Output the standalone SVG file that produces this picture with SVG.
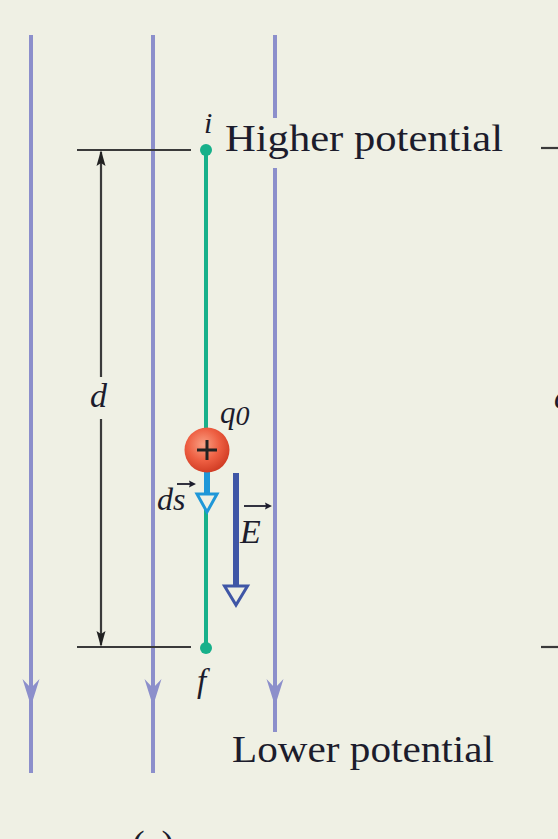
<svg xmlns="http://www.w3.org/2000/svg" width="558" height="839" viewBox="0 0 558 839">
  <defs>
    <style>
      .field { stroke: #8c8fcb; stroke-width: 4; fill: none; }
      .fieldhead { fill: #8c8fcb; }
      .dim { stroke: #3a3a3a; stroke-width: 2.2; fill: none; }
      .dimhead { fill: #222; }
      .path { stroke: #17b08a; stroke-width: 4; fill: none; }
      .dot { fill: #17b08a; }
      .serif { font-family: "Liberation Serif", "Times New Roman", serif; fill: #1c1c2c; }
      .var { font-family: "Liberation Serif", "Times New Roman", serif; font-style: italic; fill: #1c1c2c; }
      .vec { stroke: #1c1c2c; stroke-width: 1.8; fill: none; }
      .vechead { fill: #1c1c2c; }
    </style>
    <radialGradient id="chargeGrad" cx="0.42" cy="0.38" r="0.65">
      <stop offset="0" stop-color="#f9a084"/>
      <stop offset="0.55" stop-color="#ee5f42"/>
      <stop offset="1" stop-color="#cf3a22"/>
    </radialGradient>
  </defs>

  <rect x="0" y="0" width="558" height="839" fill="#eff0e4"/>

  <g id="field-lines">
    <line class="field" x1="31" y1="35" x2="31" y2="773"/>
    <path class="fieldhead" d="M22.5,679 L31,688 L39.5,679 L31,706 Z"/>
    <line class="field" x1="153" y1="35" x2="153" y2="773"/>
    <path class="fieldhead" d="M144.5,679 L153,688 L161.5,679 L153,706 Z"/>
    <line class="field" x1="275" y1="35" x2="275" y2="118"/>
    <line class="field" x1="275" y1="168" x2="275" y2="732"/>
    <path class="fieldhead" d="M266.5,679 L275,688 L283.5,679 L275,706 Z"/>
  </g>

  <g id="connectors">
    <g id="dimension-d">
      <line class="dim" x1="77" y1="150" x2="191" y2="150"/>
      <line class="dim" x1="77" y1="647" x2="191" y2="647"/>
      <line class="dim" x1="101" y1="152" x2="101" y2="377"/>
      <line class="dim" x1="101" y1="419" x2="101" y2="645"/>
      <path class="dimhead" d="M101,150 L105.5,166 L101,163 L96.5,166 Z"/>
      <path class="dimhead" d="M101,647 L105.5,631 L101,634 L96.5,631 Z"/>
    </g>
    <g id="path-i-f">
      <line class="path" x1="206" y1="150" x2="206" y2="648"/>
      <circle class="dot" cx="206" cy="150" r="6"/>
      <circle class="dot" cx="206" cy="648" r="6"/>
    </g>
    <g id="ds-arrow">
      <line x1="207" y1="470" x2="207" y2="494" stroke="#1f97d8" stroke-width="6"/>
      <path d="M197,494 L217,494 L207,512 Z" fill="#eff0e4" stroke="#1f97d8" stroke-width="3"/>
    </g>
    <g id="E-arrow">
      <line x1="236" y1="473" x2="236" y2="586" stroke="#3f56a6" stroke-width="6"/>
      <path d="M224.5,586 L247.5,586 L236,605 Z" fill="#eff0e4" stroke="#3f56a6" stroke-width="3"/>
    </g>
  </g>

  <g id="charge-q0">
    <circle cx="207" cy="450" r="22.5" fill="url(#chargeGrad)"/>
    <line x1="197" y1="450" x2="217" y2="450" stroke="#222" stroke-width="3"/>
    <line x1="207" y1="440" x2="207" y2="460" stroke="#222" stroke-width="3"/>
    <text class="var" x="220" y="423" font-size="31">q<tspan dy="2" font-size="28">0</tspan></text>
  </g>

  <g id="label-i">
    <text class="var" x="204" y="133" font-size="30">i</text>
  </g>
  <g id="label-higher">
    <text class="serif" x="225" y="151" font-size="38" textLength="278" lengthAdjust="spacingAndGlyphs">Higher potential</text>
  </g>
  <g id="label-d">
    <text class="var" x="90" y="407" font-size="34">d</text>
  </g>
  <g id="label-ds">
    <text class="var" x="157" y="510" font-size="32">ds</text>
    <line class="vec" x1="177" y1="484" x2="192" y2="484"/>
    <path class="vechead" d="M196,484 L189,480.5 L190,484 L189,487.5 Z"/>
  </g>
  <g id="label-E">
    <text class="var" x="240" y="543" font-size="34">E</text>
    <line class="vec" x1="244" y1="506" x2="268" y2="506"/>
    <path class="vechead" d="M272,506 L265,502.5 L266,506 L265,509.5 Z"/>
  </g>
  <g id="label-f">
    <text class="var" x="197" y="692" font-size="33">f</text>
  </g>
  <g id="label-lower">
    <text class="serif" x="232" y="762" font-size="38" textLength="262" lengthAdjust="spacingAndGlyphs">Lower potential</text>
  </g>

  <g id="edge-fragments">
    <line class="dim" x1="541" y1="148" x2="558" y2="148"/>
    <line class="dim" x1="541" y1="647" x2="558" y2="647"/>
    <text class="var" x="554" y="408" font-size="33">d</text>
    <text class="serif" x="153" y="857" font-size="38" text-anchor="middle">(a)</text>
  </g>
</svg>
